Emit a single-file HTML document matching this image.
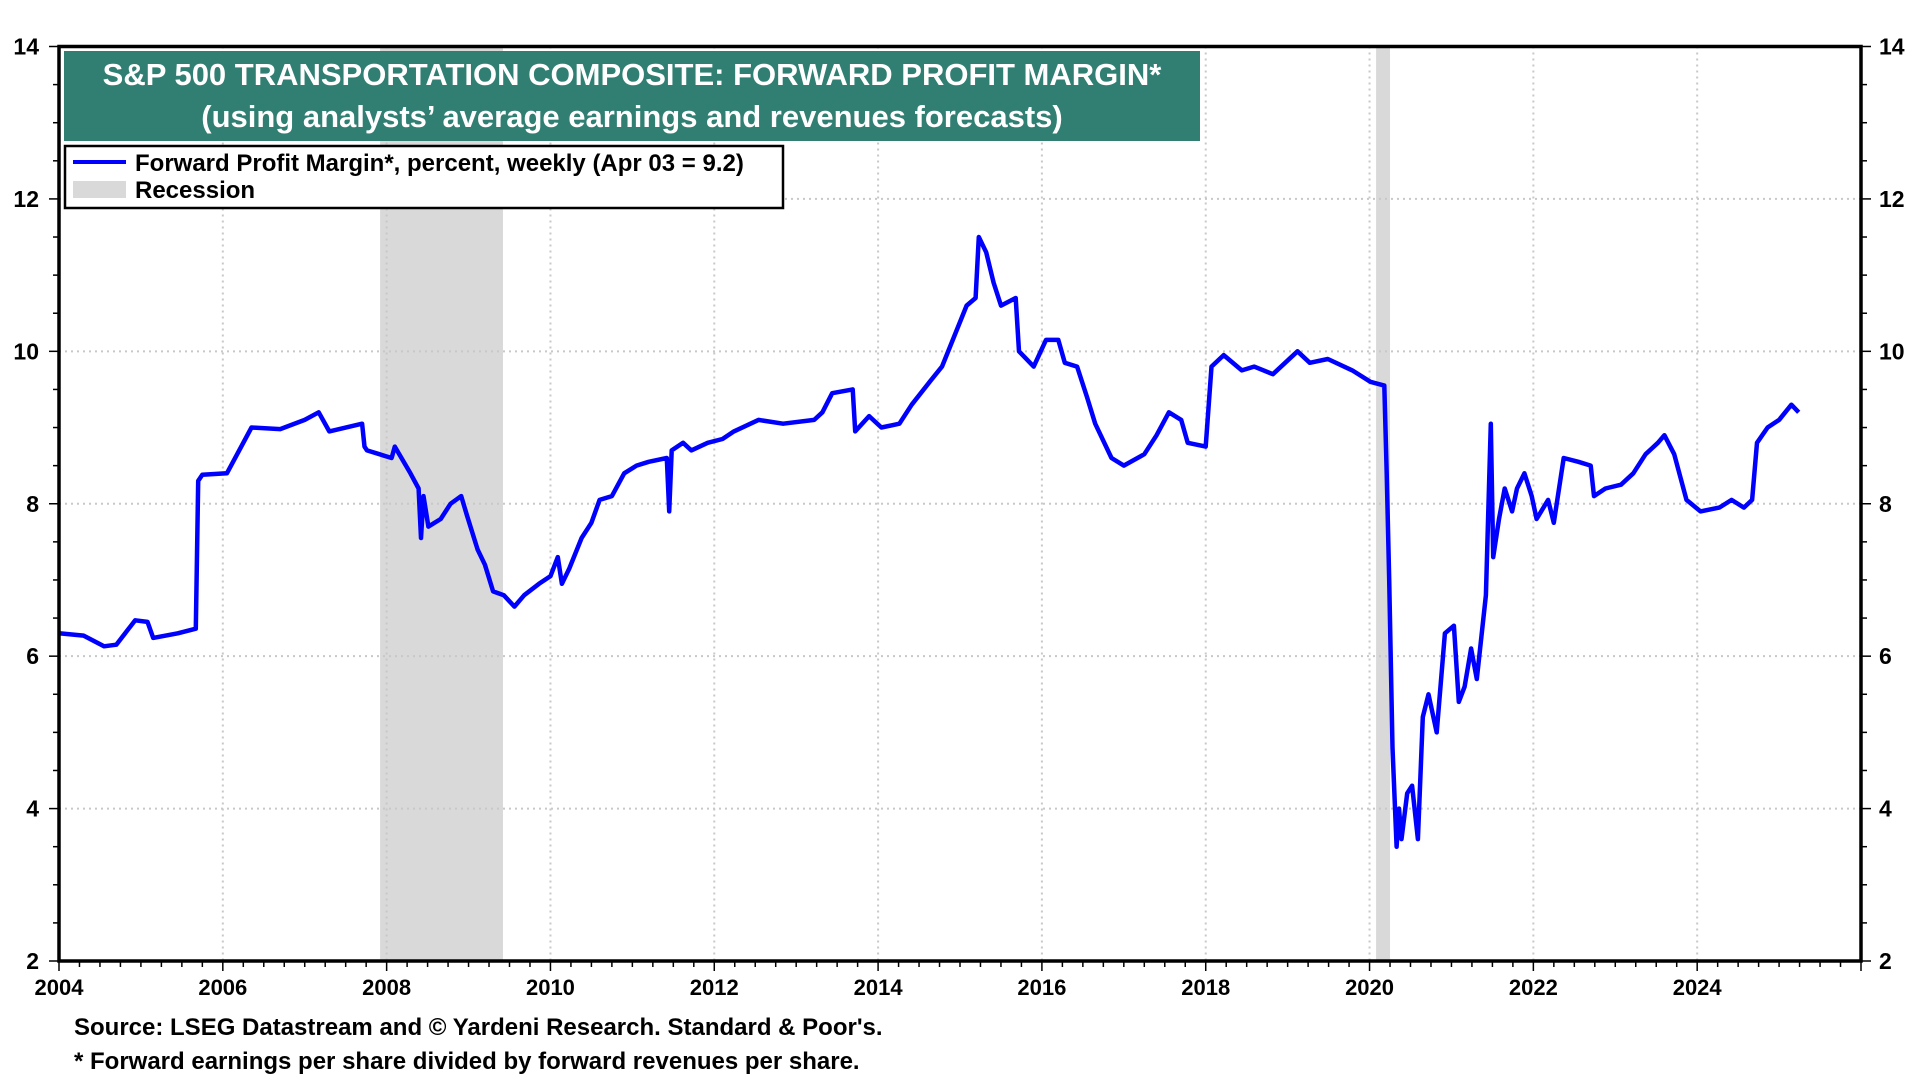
<!DOCTYPE html>
<html><head><meta charset="utf-8"><style>
html,body{margin:0;padding:0;background:#fff;}
body{width:1920px;height:1080px;overflow:hidden;font-family:"Liberation Sans",Arial,sans-serif;}
svg text{font-family:"Liberation Sans",Arial,sans-serif;font-weight:bold;}
</style></head><body>
<svg id="chart" width="1920" height="1080" xmlns="http://www.w3.org/2000/svg"></svg>
<script>
const years=[2004.0,2004.3,2004.55,2004.7,2004.93,2005.08,2005.15,2005.45,2005.67,2005.7,2005.75,2006.05,2006.35,2006.7,2007.0,2007.17,2007.3,2007.7,2007.73,2007.76,2008.06,2008.1,2008.29,2008.39,2008.42,2008.45,2008.51,2008.66,2008.78,2008.91,2008.98,2009.11,2009.2,2009.3,2009.43,2009.56,2009.68,2009.86,2010.0,2010.09,2010.14,2010.23,2010.38,2010.5,2010.6,2010.75,2010.9,2011.05,2011.2,2011.42,2011.45,2011.48,2011.62,2011.72,2011.92,2012.1,2012.24,2012.54,2012.84,2013.22,2013.32,2013.44,2013.69,2013.72,2013.89,2014.04,2014.26,2014.41,2014.63,2014.78,2014.93,2015.08,2015.19,2015.23,2015.32,2015.41,2015.5,2015.68,2015.72,2015.9,2016.05,2016.2,2016.28,2016.43,2016.55,2016.65,2016.85,2017.0,2017.25,2017.4,2017.55,2017.7,2017.78,2018.0,2018.07,2018.22,2018.44,2018.59,2018.82,2019.12,2019.27,2019.49,2019.79,2020.01,2020.18,2020.21,2020.24,2020.28,2020.33,2020.36,2020.39,2020.46,2020.52,2020.59,2020.65,2020.72,2020.82,2020.92,2021.03,2021.09,2021.16,2021.24,2021.31,2021.42,2021.48,2021.51,2021.58,2021.65,2021.74,2021.8,2021.89,2021.98,2022.04,2022.18,2022.25,2022.37,2022.55,2022.7,2022.74,2022.88,2023.07,2023.22,2023.37,2023.52,2023.6,2023.72,2023.87,2024.04,2024.27,2024.42,2024.57,2024.67,2024.73,2024.86,2025.0,2025.15,2025.24];
const margins=[6.3,6.27,6.13,6.15,6.47,6.45,6.24,6.3,6.36,8.3,8.38,8.4,9.0,8.98,9.1,9.2,8.95,9.05,8.75,8.7,8.6,8.75,8.4,8.2,7.55,8.1,7.7,7.8,8.0,8.1,7.85,7.4,7.2,6.85,6.8,6.65,6.8,6.95,7.05,7.3,6.95,7.15,7.55,7.75,8.05,8.1,8.4,8.5,8.55,8.6,7.9,8.7,8.8,8.7,8.8,8.85,8.95,9.1,9.05,9.1,9.2,9.45,9.5,8.95,9.15,9.0,9.05,9.3,9.6,9.8,10.2,10.6,10.7,11.5,11.3,10.9,10.6,10.7,10.0,9.8,10.15,10.15,9.85,9.8,9.4,9.05,8.6,8.5,8.65,8.9,9.2,9.1,8.8,8.75,9.8,9.95,9.75,9.8,9.7,10.0,9.85,9.9,9.75,9.6,9.55,8.4,7.0,4.8,3.5,4.0,3.6,4.2,4.3,3.6,5.2,5.5,5.0,6.3,6.4,5.4,5.6,6.1,5.7,6.8,9.05,7.3,7.8,8.2,7.9,8.2,8.4,8.1,7.8,8.05,7.75,8.6,8.55,8.5,8.1,8.2,8.25,8.4,8.65,8.8,8.9,8.65,8.05,7.9,7.95,8.05,7.95,8.05,8.8,9.0,9.1,9.3,9.2];
const recStart=[2007.92,2020.08];
const recEnd=[2009.42,2020.25];
const xTicks=[2004,2006,2008,2010,2012,2014,2016,2018,2020,2022,2024];
const yTicks=[2,4,6,8,10,12,14];

const L=59,R=1861,T=46.5,B=961,X0=2004,X1=2026,Y0=2,Y1=14;
const sx=v=>L+(v-X0)/(X1-X0)*(R-L);
const sy=v=>B-(v-Y0)/(Y1-Y0)*(B-T);
const svg=document.getElementById('chart');
const NS='http://www.w3.org/2000/svg';
function mk(tag,attrs,parent){const e=document.createElementNS(NS,tag);for(const k in attrs)e.setAttribute(k,attrs[k]);(parent||svg).appendChild(e);return e;}

recStart.forEach((s,i)=>{
  const r=mk('rect',{x:sx(s),y:T,width:sx(recEnd[i])-sx(s),height:B-T,fill:'#d9d9d9'});
  
  
});
yTicks.forEach(v=>{
  if(v>Y0&&v<Y1){const g=mk('line',{x1:L,x2:R,y1:sy(v),y2:sy(v),stroke:'#c8c8c8','stroke-width':2,'stroke-dasharray':'2,4'});
  
  }
  const t1=mk('text',{x:L-20,y:sy(v)+8,'text-anchor':'end','font-size':23});t1.textContent=v;
  
  
  const t2=mk('text',{x:R+18,y:sy(v)+8,'text-anchor':'start','font-size':23});t2.textContent=v;
  
  
});
for(let v=Y0;v<=Y1;v+=0.5){
  mk('line',{x1:L-(v%2===0?10:6),x2:L,y1:sy(v),y2:sy(v),stroke:'#000','stroke-width':1.5});
  mk('line',{x1:R,x2:R+(v%2===0?10:6),y1:sy(v),y2:sy(v),stroke:'#000','stroke-width':1.5});
}
xTicks.forEach(v=>{
  if(v>X0){const g=mk('line',{x1:sx(v),x2:sx(v),y1:T,y2:B,stroke:'#c8c8c8','stroke-width':2,'stroke-dasharray':'2,4'});
  
  }
  const t=mk('text',{x:sx(v),y:B+34,'text-anchor':'middle','font-size':22});t.textContent=v;
  
  
});
for(let v=X0;v<=X1;v+=0.25){
  mk('line',{x1:sx(v),x2:sx(v),y1:B,y2:B+(Number.isInteger(v)&&v%2===0?10:6),stroke:'#000','stroke-width':1.5});
}
const pts=years.map((y,i)=>sx(y).toFixed(1)+','+sy(margins[i]).toFixed(1)).join(' ');
const line=mk('polyline',{points:pts,fill:'none',stroke:'#0000ff','stroke-width':4.5,'stroke-linejoin':'round'});


const frame=mk('rect',{x:L,y:T,width:R-L,height:B-T,fill:'none',stroke:'#000','stroke-width':3.5});


</script>
<svg style="position:absolute;left:0;top:0" width="1920" height="1080" xmlns="http://www.w3.org/2000/svg">
  <g>
    <rect x="64" y="51" width="1136" height="90" fill="#317f72"/>
    <text x="632" y="85" text-anchor="middle" font-size="31" fill="#fff">S&amp;P 500 TRANSPORTATION COMPOSITE: FORWARD PROFIT MARGIN*</text>
    <text x="632" y="127" text-anchor="middle" font-size="31" fill="#fff">(using analysts’ average earnings and revenues forecasts)</text>
  </g>
  <g>
    <rect x="65" y="146" width="718" height="62" fill="#fff" stroke="#000" stroke-width="2.5"/>
    <line x1="73" y1="162" x2="126" y2="162" stroke="#0000ff" stroke-width="4"/>
    <text x="135" y="171" font-size="24">Forward Profit Margin*, percent, weekly (Apr 03 = 9.2)</text>
    <rect x="73" y="181" width="53" height="17" fill="#d9d9d9"/>
    <text x="135" y="198" font-size="24">Recession</text>
  </g>
  <text x="74" y="1035" font-size="24">Source: LSEG Datastream and © Yardeni Research. Standard &amp; Poor's.</text>
  <text x="74" y="1069" font-size="24">* Forward earnings per share divided by forward revenues per share.</text>
</svg>
</body></html>
